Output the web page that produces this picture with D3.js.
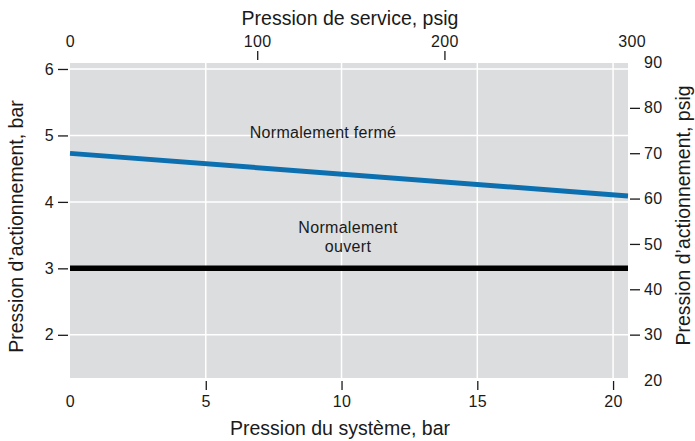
<!DOCTYPE html>
<html>
<head>
<meta charset="utf-8">
<script src="https://cdn.jsdelivr.net/npm/d3@7"></script>
<style>
  html, body { margin: 0; padding: 0; background: #fff; }
  svg text { font-family: "Liberation Sans", Arial, Helvetica, sans-serif; fill: #1a1a1a; }
</style>
</head>
<body>
<svg id="chart" width="695" height="441"></svg>
<script>
// System pressure (bar) along the bottom, service pressure (psig) along the top
const systemTicks = [0, 5, 10, 15, 20];
const systemTickMarks = [5, 10, 15, 20];
const serviceTicks = [0, 100, 200, 300];
const serviceTickMarks = [100, 200];
// Actuation pressure in bar (left) and psig (right)
const barTicks = [2, 3, 4, 5, 6];
const psigTicks = [20, 30, 40, 50, 60, 70, 80, 90];
const psigTickMarks = [30, 40, 50, 60, 70, 80];

// Normally closed: actuation pressure falls slightly with system pressure
const closedSystem = [0, 20.55];
const closedActuation = [4.73, 4.09];
// Normally open: constant actuation pressure
const openSystem = [0, 20.55];
const openActuation = [3.0, 3.0];

const PSI_PER_BAR = 14.5038;

const svg = d3.select("#chart");
const plot = { left: 70, right: 628, top: 63, bottom: 378 };

const x = d3.scaleLinear().domain([0, 20.55]).range([plot.left, plot.right]);
const xTop = d3.scaleLinear().domain([0, 20.55 * PSI_PER_BAR]).range([plot.left, plot.right]);
const y = d3.scaleLinear().domain([1.35, 6.09]).range([plot.bottom, plot.top]);
const yRight = d3.scaleLinear().domain([20, 90]).range([plot.bottom + 2, plot.top - 0.5]);

// Plot background
svg.append("rect")
  .attr("x", plot.left).attr("y", plot.top)
  .attr("width", plot.right - plot.left).attr("height", plot.bottom - plot.top)
  .attr("fill", "#dcdddf");

// White grid
const grid = svg.append("g").attr("stroke", "#fff").attr("stroke-width", 1.5);
grid.selectAll("line.v").data(systemTickMarks).join("line")
  .attr("class", "v")
  .attr("x1", d => x(d)).attr("x2", d => x(d))
  .attr("y1", plot.top).attr("y2", plot.bottom);
grid.selectAll("line.h").data(barTicks).join("line")
  .attr("class", "h")
  .attr("x1", plot.left).attr("x2", plot.right)
  .attr("y1", d => y(d)).attr("y2", d => y(d));

// Curves
const line = d3.line().x(d => x(d[0])).y(d => y(d[1]));
svg.append("path")
  .datum(openSystem.map((s, i) => [s, openActuation[i]]))
  .attr("d", line).attr("fill", "none")
  .attr("stroke", "#000").attr("stroke-width", 5.5);
svg.append("path")
  .datum(closedSystem.map((s, i) => [s, closedActuation[i]]))
  .attr("d", line).attr("fill", "none")
  .attr("stroke", "#0b6fb0").attr("stroke-width", 5);

// Axes: labels at every value, tick marks only where listed
function styleAxis(g, marks, fontSize) {
  g.select(".domain").remove();
  g.selectAll(".tick line").attr("stroke", "#1a1a1a").attr("stroke-width", 1.3);
  g.selectAll(".tick").filter(d => !marks.includes(d)).select("line").remove();
  g.selectAll(".tick text").attr("font-size", fontSize).attr("fill", "#1a1a1a")
    .attr("letter-spacing", 0.4);
}

svg.append("g")
  .attr("transform", `translate(0,${plot.bottom + 3})`)
  .call(d3.axisBottom(x).tickValues(systemTicks).tickSize(9).tickPadding(6).tickFormat(d3.format("d")))
  .call(g => styleAxis(g, systemTickMarks, 16));

svg.append("g")
  .attr("transform", `translate(0,${plot.top - 3})`)
  .call(d3.axisTop(xTop).tickValues(serviceTicks).tickSize(9).tickPadding(4).tickFormat(d3.format("d")))
  .call(g => styleAxis(g, serviceTickMarks, 16));

svg.append("g")
  .attr("transform", `translate(${plot.left - 2},0)`)
  .call(d3.axisLeft(y).tickValues(barTicks).tickSize(10).tickPadding(4).tickFormat(d3.format("d")))
  .call(g => styleAxis(g, barTicks, 16));

svg.append("g")
  .attr("transform", `translate(${plot.right + 2},0)`)
  .call(d3.axisRight(yRight).tickValues(psigTicks).tickSize(10).tickPadding(4).tickFormat(d3.format("d")))
  .call(g => styleAxis(g, psigTickMarks, 16));

// Axis titles
const titleSize = 19.5;
svg.append("text").attr("x", 350).attr("y", 25)
  .attr("text-anchor", "middle").attr("font-size", titleSize)
  .text("Pression de service, psig");
svg.append("text").attr("x", 340).attr("y", 435)
  .attr("text-anchor", "middle").attr("font-size", titleSize)
  .text("Pression du système, bar");
svg.append("text")
  .attr("transform", `translate(23,${(plot.top + plot.bottom) / 2 + 6}) rotate(-90)`)
  .attr("text-anchor", "middle").attr("font-size", titleSize)
  .text("Pression d’actionnement, bar");
svg.append("text")
  .attr("transform", `translate(690,${(plot.top + plot.bottom) / 2 - 5}) rotate(-90)`)
  .attr("text-anchor", "middle").attr("font-size", titleSize)
  .text("Pression d’actionnement, psig");

// Region labels
svg.append("text").attr("x", 323).attr("y", 138)
  .attr("text-anchor", "middle").attr("font-size", 16).attr("letter-spacing", 0.3)
  .text("Normalement fermé");
const openLabel = svg.append("text").attr("x", 348).attr("y", 233)
  .attr("text-anchor", "middle").attr("font-size", 16).attr("letter-spacing", 0.3);
openLabel.append("tspan").attr("x", 348).text("Normalement");
openLabel.append("tspan").attr("x", 348).attr("dy", 19).text("ouvert");
</script>
</body>
</html>
